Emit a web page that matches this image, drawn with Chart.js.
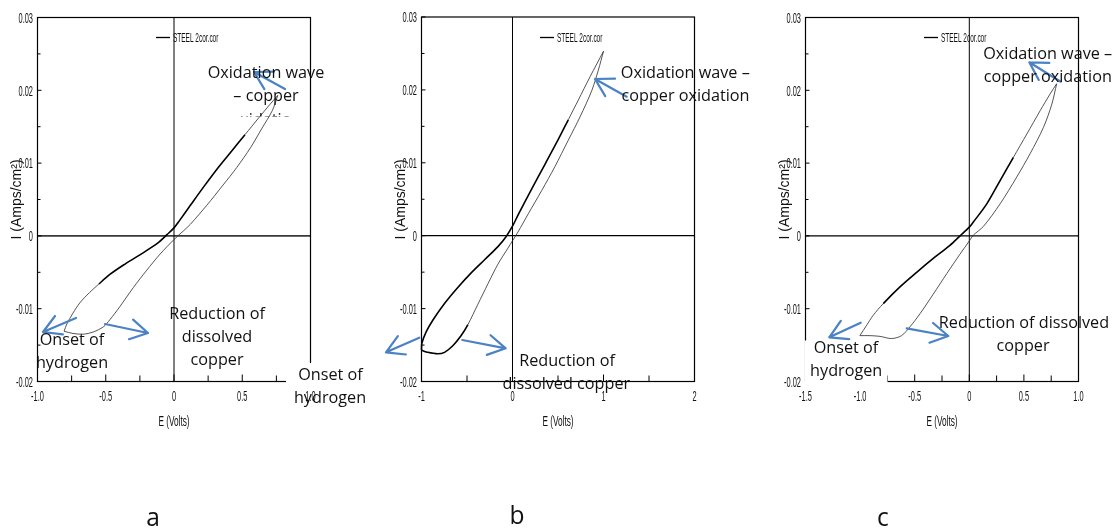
<!DOCTYPE html>
<html>
<head>
<meta charset="utf-8">
<title>Cyclic voltammograms</title>
<script src="https://cdn.jsdelivr.net/npm/chart.js@4.4.1/dist/chart.umd.min.js"></script>
<style>
  html, body { margin: 0; padding: 0; background: #fff; width: 1113px; height: 531px; overflow: hidden; }
  canvas.panel { position: absolute; left: 0; top: 0; pointer-events: none; }
</style>
</head>
<body>
<canvas id="panelA" class="panel" width="1113" height="531"></canvas>
<canvas id="panelB" class="panel" width="1113" height="531"></canvas>
<canvas id="panelC" class="panel" width="1113" height="531"></canvas>
<script>
// ---------------- data ----------------
const seriesLabel = 'STEEL 2cor.cor';
const currentTicks = ['-0.02', '-0.01', '0', '0.01', '0.02', '0.03'];
const potentialTicksA = ['-1.0', '-0.5', '0', '0.5', '1.0'];
const potentialTicksB = ['-1', '0', '1', '2'];
const potentialTicksC = ['-1.5', '-1.0', '-0.5', '0', '0.5', '1.0'];

// panel a: sweep down from the upper vertex, then sweep back up (E in V, I in A/cm2)
const sweepDownE_A = [0.76, 0.70, 0.62, 0.52, 0.42, 0.32, 0.22, 0.12, 0.04, 0.0, -0.05, -0.12, -0.25, -0.37, -0.47, -0.55, -0.62, -0.69, -0.74, -0.785, -0.805];
const sweepDownI_A = [0.0193, 0.0180, 0.0162, 0.0139, 0.0116, 0.0093, 0.0068, 0.0042, 0.0021, 0.0011, 0.0002, -0.0010, -0.0026, -0.0040, -0.0053, -0.0066, -0.0078, -0.0092, -0.0106, -0.0121, -0.0131];
const sweepUpE_A = [-0.805, -0.74, -0.665, -0.592, -0.518, -0.469, -0.396, -0.298, -0.199, -0.102, 0.0, 0.07, 0.12, 0.24, 0.36, 0.46, 0.56, 0.645, 0.72, 0.76];
const sweepUpI_A = [-0.0131, -0.0134, -0.0135, -0.0132, -0.0125, -0.0115, -0.0097, -0.0071, -0.0047, -0.0025, -0.0005, 0.0007, 0.0016, 0.0042, 0.0070, 0.0094, 0.0121, 0.0148, 0.0172, 0.0193];

// panel b
const sweepDownE_B = [1.0, 0.852, 0.723, 0.613, 0.503, 0.357, 0.210, 0.063, 0.0, -0.069, -0.160, -0.307, -0.454, -0.601, -0.747, -0.876, -0.949, -0.997, -1.0];
const sweepDownI_B = [0.0253, 0.0218, 0.0186, 0.0159, 0.0132, 0.0098, 0.0064, 0.0029, 0.0013, -0.0001, -0.0015, -0.0033, -0.0051, -0.0071, -0.0093, -0.0116, -0.0132, -0.0148, -0.0157];
const sweepUpE_B = [-1.0, -0.931, -0.821, -0.747, -0.656, -0.564, -0.490, -0.380, -0.270, -0.160, -0.050, 0.0, 0.060, 0.173, 0.321, 0.467, 0.613, 0.742, 0.871, 0.943, 1.0];
const sweepUpI_B = [-0.0157, -0.0160, -0.0162, -0.0160, -0.0151, -0.0137, -0.0122, -0.0094, -0.0066, -0.0039, -0.0017, -0.0007, 0.0005, 0.0030, 0.0062, 0.0095, 0.0131, 0.0163, 0.0199, 0.0227, 0.0253];

// panel c
const sweepDownE_C = [0.80, 0.740, 0.649, 0.527, 0.404, 0.282, 0.160, 0.037, 0.0, -0.085, -0.177, -0.330, -0.482, -0.635, -0.788, -0.880, -0.941, -1.002];
const sweepDownI_C = [0.0209, 0.0195, 0.0172, 0.0140, 0.0108, 0.0076, 0.0044, 0.0019, 0.0012, 0.0000, -0.0013, -0.0031, -0.0050, -0.0070, -0.0093, -0.0109, -0.0123, -0.0137];
const sweepUpE_C = [-1.002, -0.910, -0.818, -0.711, -0.620, -0.544, -0.452, -0.330, -0.207, -0.085, 0.0, 0.037, 0.129, 0.282, 0.435, 0.557, 0.679, 0.756, 0.80];
const sweepUpI_C = [-0.0137, -0.0137, -0.0138, -0.0141, -0.0137, -0.0125, -0.0107, -0.0080, -0.0052, -0.0025, -0.0007, 0.0001, 0.0013, 0.0044, 0.0081, 0.0113, 0.0149, 0.0181, 0.0209];

// ---------------- drawing helpers ----------------
const AXIS_FONT = '"Liberation Sans", Arial, sans-serif';
const NOTE_FONT = '"Open Sans", "Noto Sans", sans-serif';
const NOTE_BLUE = '#4a82c4';

function toPoints(es, is) { return es.map((e, k) => ({ x: e, y: is[k] })); }

function squeezedText(ctx, text, x, y, sx, align) {
  ctx.save();
  ctx.translate(x, y);
  ctx.scale(sx, 1);
  ctx.textAlign = align;
  ctx.fillText(text, 0, 0);
  ctx.restore();
}

function strokeLine(ctx, x1, y1, x2, y2) {
  ctx.beginPath(); ctx.moveTo(x1, y1); ctx.lineTo(x2, y2); ctx.stroke();
}

function drawArrow(ctx, tail, tip) {
  const ang = Math.atan2(tail[1] - tip[1], tail[0] - tip[0]);
  const hl = 20, ha = Math.PI / 6;
  ctx.beginPath();
  ctx.moveTo(tail[0], tail[1]);
  ctx.lineTo(tip[0], tip[1]);
  ctx.moveTo(tip[0] + hl * Math.cos(ang - ha), tip[1] + hl * Math.sin(ang - ha));
  ctx.lineTo(tip[0], tip[1]);
  ctx.lineTo(tip[0] + hl * Math.cos(ang + ha), tip[1] + hl * Math.sin(ang + ha));
  ctx.stroke();
}

// frame, zero lines, inward ticks, tick labels, titles, legend and callouts
const panelDecor = {
  id: 'panelDecor',
  beforeDatasetsDraw(chart, args, o) {
    const { ctx, chartArea: a, scales: { x, y } } = chart;
    ctx.save();
    ctx.lineCap = 'butt';
    const y0 = y.getPixelForValue(0), x0 = x.getPixelForValue(0);
    ctx.strokeStyle = o.zeroColor; ctx.lineWidth = o.zeroWidth;
    strokeLine(ctx, a.left, y0, a.right, y0);
    ctx.strokeStyle = '#000'; ctx.lineWidth = 1;
    strokeLine(ctx, x0, a.top, x0, a.bottom);
    ctx.lineWidth = 1.2;
    ctx.strokeRect(a.left, a.top, a.right - a.left, a.bottom - a.top);

    // bottom ticks, pointing into the plot
    const xMajor = o.xLabels.map(Number);
    const nx = Math.round((x.max - x.min) / o.xMinor);
    ctx.lineWidth = 1;
    for (let k = 0; k <= nx; k++) {
      const v = x.min + k * o.xMinor;
      const isMajor = xMajor.some(m => Math.abs(m - v) < 1e-6);
      const px = x.getPixelForValue(v);
      strokeLine(ctx, px, a.bottom, px, a.bottom - (isMajor ? 7 : 6));
    }
    // left ticks
    const yMajor = o.yLabels.map(Number);
    const ny = Math.round((y.max - y.min) / o.yMinor);
    for (let k = 0; k <= ny; k++) {
      const v = y.min + k * o.yMinor;
      const isMajor = yMajor.some(m => Math.abs(m - v) < 1e-9);
      const py = y.getPixelForValue(v);
      strokeLine(ctx, a.left, py, a.left + (isMajor ? 4 : 3), py);
    }
    ctx.restore();
  },
  afterDraw(chart, args, o) {
    const { ctx, chartArea: a, scales: { x, y } } = chart;
    ctx.save();

    // white text-box backgrounds that sit over the axes
    ctx.fillStyle = '#fff';
    (o.masks || []).forEach(m => ctx.fillRect(m[0], m[1], m[2], m[3]));

    // tick labels
    ctx.fillStyle = '#111';
    ctx.textBaseline = 'middle';
    ctx.font = '14px ' + AXIS_FONT;
    o.xLabels.forEach(t => squeezedText(ctx, t, x.getPixelForValue(Number(t)), a.bottom + 16, 0.53, 'center'));
    o.yLabels.forEach(t => squeezedText(ctx, t, a.left - 4.5, y.getPixelForValue(Number(t)) + 1.5, 0.53, 'right'));

    // axis titles
    ctx.font = '15px ' + AXIS_FONT;
    squeezedText(ctx, 'E (Volts)', (a.left + a.right) / 2, 421.5, 0.55, 'center');
    ctx.font = '14px ' + AXIS_FONT;
    ctx.save();
    ctx.translate(a.left - 20, 199.5);
    ctx.rotate(-Math.PI / 2);
    ctx.textAlign = 'center';
    ctx.fillText('I (Amps/cm\u00B2)', 0, 0);
    ctx.restore();

    // legend
    ctx.strokeStyle = '#000'; ctx.lineWidth = 1.3;
    strokeLine(ctx, a.left + 118.5, 37.5, a.left + 132.5, 37.5);
    ctx.font = '12px ' + AXIS_FONT;
    squeezedText(ctx, chart.data.datasets[0].label, a.left + 135.5, 38.5, 0.54, 'left');

    // callout arrows
    ctx.strokeStyle = NOTE_BLUE; ctx.lineWidth = 2.2; ctx.lineJoin = 'round'; ctx.lineCap = 'round';
    o.arrows.forEach(ar => drawArrow(ctx, ar[0], ar[1]));

    // callout text
    ctx.font = '16.5px ' + NOTE_FONT;
    const sq = 116.6 / ctx.measureText('Oxidation wave').width;
    ctx.fillStyle = '#111';
    o.notes.forEach(n => squeezedText(ctx, n[0], n[1], n[2], sq, 'center'));
    if (o.clippedNote) {
      const c = o.clippedNote;
      ctx.save();
      ctx.beginPath(); ctx.rect(c.clip[0], c.clip[1], c.clip[2], c.clip[3]); ctx.clip();
      squeezedText(ctx, c.text, c.x, c.y, sq, 'center');
      ctx.restore();
    }

    // panel letter
    ctx.font = '25px ' + NOTE_FONT;
    squeezedText(ctx, o.letter[0], o.letter[1], o.letter[2], sq, 'center');
    ctx.restore();
  }
};

function makePanel(canvasId, p) {
  const inBand = (s, band) => band && s.p0.parsed.x >= band[0] && s.p0.parsed.x <= band[1] &&
                                      s.p1.parsed.x >= band[0] && s.p1.parsed.x <= band[1];
  const styled = (points, thick) => ({
    label: seriesLabel,
    data: points,
    showLine: true,
    pointRadius: 0,
    borderColor: '#222',
    borderWidth: 0.8,
    tension: 0.3,
    fill: false,
    clip: 6,
    segment: {
      borderWidth: s => inBand(s, thick) ? 1.6 : 0.8,
      borderColor: s => inBand(s, thick) ? '#000' : '#2a2a2a'
    }
  });
  return new Chart(document.getElementById(canvasId), {
    type: 'scatter',
    data: { datasets: [styled(toPoints(p.downE, p.downI), p.thickDown), styled(toPoints(p.upE, p.upI), p.thickUp)] },
    options: {
      responsive: false,
      animation: false,
      events: [],
      layout: { padding: { left: p.box[0], top: p.box[1], right: 1113 - p.box[2], bottom: 531 - p.box[3] } },
      scales: {
        x: { type: 'linear', min: p.xMin, max: p.xMax, display: false },
        y: { type: 'linear', min: -0.02, max: 0.03, display: false }
      },
      plugins: {
        legend: { display: false },
        tooltip: { enabled: false },
        panelDecor: {
          xLabels: p.xLabels, yLabels: currentTicks, xMinor: p.xMinor, yMinor: 0.005,
          zeroColor: p.zeroColor, zeroWidth: p.zeroWidth,
          masks: p.masks, arrows: p.arrows, notes: p.notes, clippedNote: p.clippedNote, letter: p.letter
        }
      }
    },
    plugins: [panelDecor]
  });
}

makePanel('panelA', {
  box: [37.5, 17.5, 310.5, 381.5], xMin: -1, xMax: 1, xMinor: 0.25, xLabels: potentialTicksA,
  downE: sweepDownE_A, downI: sweepDownI_A, upE: sweepUpE_A, upI: sweepUpI_A,
  thickDown: [-0.56, 0.53], thickUp: null,
  zeroColor: '#3a3a3a', zeroWidth: 1.8,
  masks: [[286, 363, 88, 50]],
  arrows: [[[285, 89], [254, 72]], [[105, 324], [148, 333]], [[76, 318], [43, 332]]],
  notes: [
    ['Oxidation wave', 266, 73], ['\u2013 copper', 266, 96],
    ['Reduction of', 217, 314], ['dissolved', 217, 337], ['copper', 217, 360],
    ['Onset of', 72, 340], ['hydrogen', 72, 363],
    ['Onset of', 330.5, 375], ['hydrogen', 330, 398]
  ],
  clippedNote: { text: 'oxidation', x: 266, y: 120, clip: [240, 111.5, 50, 5] },
  letter: ['a', 153, 519]
});

makePanel('panelB', {
  box: [421.5, 17, 694.5, 381.5], xMin: -1, xMax: 2, xMinor: 0.5, xLabels: potentialTicksB,
  downE: sweepDownE_B, downI: sweepDownI_B, upE: sweepUpE_B, upI: sweepUpI_B,
  thickDown: [-1.0, 0.66], thickUp: [-1.0, -0.45],
  zeroColor: '#000', zeroWidth: 1.3,
  masks: [],
  arrows: [[[626.7, 96.7], [595, 79]], [[419.3, 337.7], [386, 352.3]], [[462.3, 340], [505.7, 348.3]]],
  notes: [
    ['Oxidation wave \u2013', 685.3, 73], ['copper oxidation', 685.5, 96],
    ['Reduction of', 567, 361], ['dissolved copper', 566.3, 384]
  ],
  letter: ['b', 517, 517]
});

makePanel('panelC', {
  box: [805.5, 17.5, 1078.5, 381.5], xMin: -1.5, xMax: 1, xMinor: 0.25, xLabels: potentialTicksC,
  downE: sweepDownE_C, downI: sweepDownI_C, upE: sweepUpE_C, upI: sweepUpI_C,
  thickDown: [-0.86, 0.42], thickUp: null,
  zeroColor: '#000', zeroWidth: 1.3,
  masks: [[804.5, 340.5, 83, 45]],
  arrows: [[[1060.7, 81.7], [1029.3, 62.3]], [[860.7, 322.7], [829.3, 337.3]], [[906.7, 328.3], [948.3, 336]]],
  notes: [
    ['Oxidation wave \u2013', 1047.7, 54.3], ['copper oxidation', 1047.8, 77.3],
    ['Reduction of dissolved', 1024, 323.3], ['copper', 1023, 346.7],
    ['Onset of', 846, 348.3], ['hydrogen', 846.2, 371]
  ],
  letter: ['c', 883, 519]
});
</script>
</body>
</html>
